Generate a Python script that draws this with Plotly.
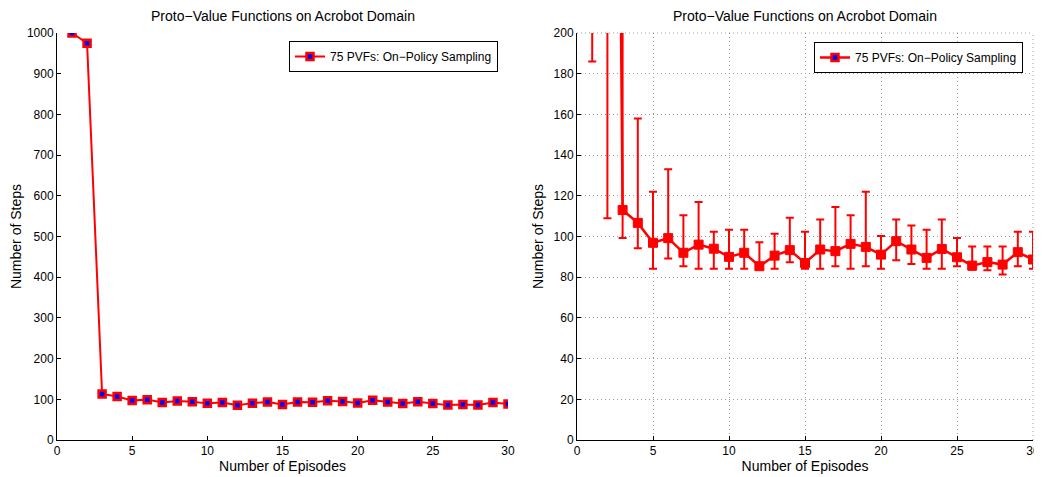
import plotly.graph_objects as go

episodes = list(range(1, 31))
mean_steps = [1000, 975, 113, 106.7, 96.9, 99.2, 92, 96, 94, 90,
              92, 85.4, 90.6, 93.3, 87, 93.6, 92.8, 96.4, 94.9, 91.1,
              97.7, 93.6, 89.5, 93.9, 89.8, 85.7, 87.4, 86.2, 92.3, 88.7]
upper_bound = [1814, 1841, 320, 158, 122, 133, 110.5, 117, 102.3, 103.3,
               103.3, 97.2, 101.3, 109.2, 102.3, 108.4, 114.5, 110.5, 122, 100.2,
               108.4, 105.4, 103.3, 108.4, 99.3, 95.1, 95.1, 95.1, 102.3, 102.3]
lower_bound = [186, 109, 99.3, 94.2, 84.2, 89.2, 85.4, 84.2, 84.2, 84.2,
               84.2, 84.2, 84.2, 87.4, 84.2, 84.2, 85.4, 84.2, 85.4, 84.2,
               88.3, 86.5, 84.2, 84.2, 85.4, 83.7, 83.4, 81.3, 85.4, 84.2]
x_ticks = [0, 5, 10, 15, 20, 25, 30]
y_ticks_left = list(range(0, 1001, 100))
y_ticks_right = list(range(0, 201, 20))

series_name = "75 PVFs: On\u2212Policy Sampling"
title_text = "Proto\u2212Value Functions on Acrobot Domain"

err_plus = [u - m for u, m in zip(upper_bound, mean_steps)]
err_minus = [m - l for m, l in zip(mean_steps, lower_bound)]

RED = "#ff0000"
BLUE = "#0000ff"
GRID = "#9a9a9a"
FONT = "Liberation Sans, Arial, Helvetica, sans-serif"

W, H = 1042, 477
OFF = 8  # page body margin


def px(xp):
    return (xp - OFF) / W


def py(yp):
    return 1 - (yp - OFF) / H


fig = go.Figure()

# Left panel
fig.add_trace(go.Scatter(
    x=episodes, y=mean_steps, mode="lines+markers", name=series_name,
    line=dict(color=RED, width=2),
    marker=dict(symbol="square", size=7, color=BLUE, line=dict(color=RED, width=2.5)),
    xaxis="x", yaxis="y", legend="legend", cliponaxis=True,
))

# Right panel
fig.add_trace(go.Scatter(
    x=episodes, y=mean_steps, mode="lines+markers", name=series_name,
    line=dict(color=RED, width=2.5),
    marker=dict(symbol="square", size=9, color=RED, line=dict(color=RED, width=1)),
    error_y=dict(type="data", symmetric=False, array=err_plus, arrayminus=err_minus,
                 color=RED, thickness=2, width=4),
    xaxis="x2", yaxis="y2", showlegend=False, cliponaxis=True,
))
fig.add_trace(go.Scatter(
    x=[None], y=[None], mode="lines+markers", name=series_name,
    line=dict(color=RED, width=2.5),
    marker=dict(symbol="square", size=7, color=BLUE, line=dict(color=RED, width=2.5)),
    xaxis="x2", yaxis="y2", legend="legend2",
))

axis_common = dict(
    showline=True, linecolor="#000", linewidth=1, mirror=False,
    ticks="inside", ticklen=4, tickcolor="#000",
    tickfont=dict(family=FONT, size=12, color="#000"),
    zeroline=False, automargin=False,
)

grid_style = dict(showgrid=True, gridcolor=GRID, griddash="1px,3px", gridwidth=1)

fig.update_layout(
    width=W, height=H,
    margin=dict(l=0, r=0, t=0, b=0, autoexpand=False),
    paper_bgcolor="white", plot_bgcolor="white",
    font=dict(family=FONT, color="#000"),
    xaxis=dict(domain=[px(57), px(508)], range=[0, 30], tickvals=x_ticks,
               showgrid=False, anchor="y",
               title=dict(text="Number of Episodes", font=dict(family=FONT, size=14), standoff=2),
               **axis_common),
    yaxis=dict(domain=[py(440), py(33)], range=[0, 1000], tickvals=y_ticks_left,
               showgrid=False, anchor="x",
               title=dict(text="Number of Steps", font=dict(family=FONT, size=14), standoff=6),
               **axis_common),
    xaxis2=dict(domain=[px(577), px(1033)], range=[0, 30], tickvals=x_ticks, anchor="y2",
                title=dict(text="Number of Episodes", font=dict(family=FONT, size=14), standoff=2),
                **grid_style, **axis_common),
    yaxis2=dict(domain=[py(440), py(33)], range=[0, 200], tickvals=y_ticks_right, anchor="x2",
                title=dict(text="Number of Steps", font=dict(family=FONT, size=14), standoff=6),
                **grid_style, **axis_common),
    legend=dict(x=px(498), y=py(41), xanchor="right", yanchor="top",
                bordercolor="#000", borderwidth=1, bgcolor="white",
                font=dict(family=FONT, size=12), itemwidth=30),
    legend2=dict(x=px(1023), y=py(42), xanchor="right", yanchor="top",
                 bordercolor="#000", borderwidth=1, bgcolor="white",
                 font=dict(family=FONT, size=12), itemwidth=30),
    showlegend=True,
    shapes=[
        dict(type="line", xref="x2 domain", yref="y2 domain", x0=0, x1=1, y0=1, y1=1,
             line=dict(color=GRID, width=1, dash="1px,3px"), layer="below"),
        dict(type="line", xref="x2 domain", yref="y2 domain", x0=1, x1=1, y0=0, y1=1,
             line=dict(color=GRID, width=1, dash="1px,3px"), layer="below"),
    ],
    annotations=[
        dict(text=title_text, x=px((57 + 508) / 2), y=py(16), xref="paper", yref="paper",
             xanchor="center", yanchor="middle", showarrow=False,
             font=dict(family=FONT, size=14, color="#000")),
        dict(text=title_text, x=px((577 + 1033) / 2), y=py(16), xref="paper", yref="paper",
             xanchor="center", yanchor="middle", showarrow=False,
             font=dict(family=FONT, size=14, color="#000")),
    ],
)

fig.write_html("out.html")
